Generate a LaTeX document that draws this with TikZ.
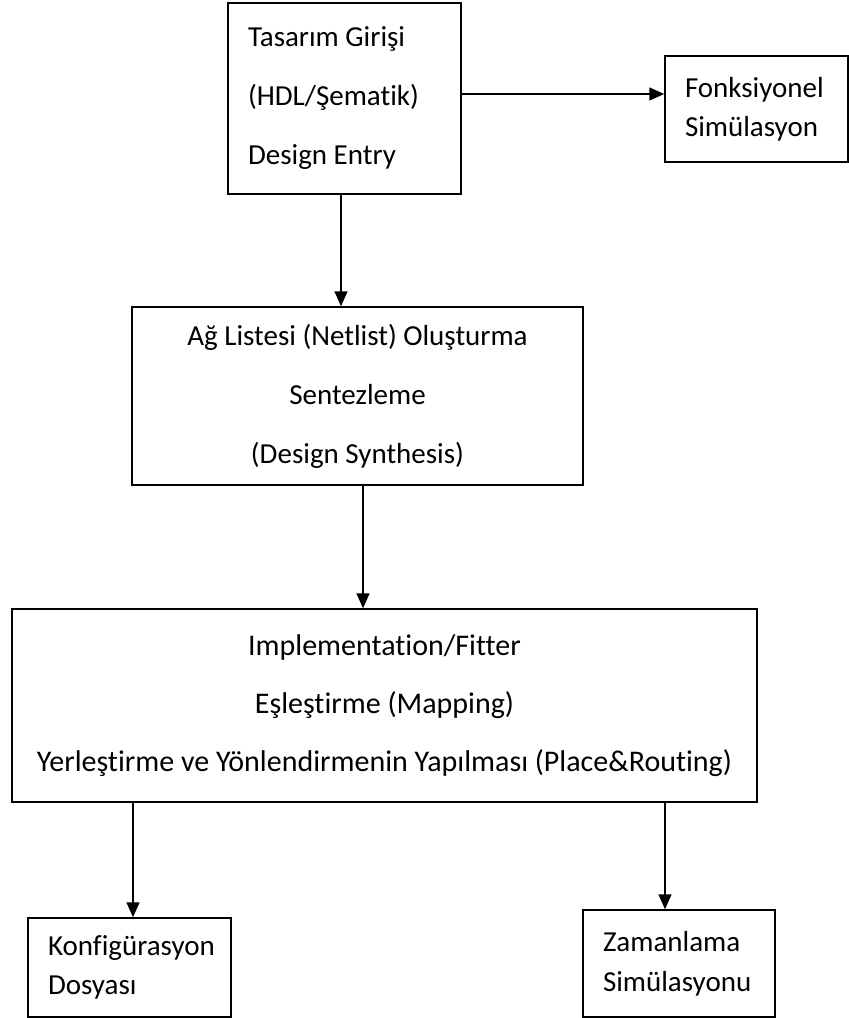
\documentclass[tikz,border=0pt]{standalone}
\usepackage{fontspec}
\setmainfont{Carlito}[Ligatures=NoCommon]
\usepackage{tikz}
\usetikzlibrary{arrows.meta,positioning}
\tikzset{
 fblock/.style={rectangle, draw=black, fill=white, line width=1.5pt,
 inner sep=0pt, align=center, font=\fontsize{29}{59}\selectfont},
 lblock/.style={fblock, align=flush left, inner xsep=20pt},
 sblock/.style={lblock, font=\fontsize{29}{39}\selectfont},
 farrow/.style={-{Triangle[length=15pt,width=13pt]}, line width=1.5pt, draw=black},
}

\begin{document}
\begin{tikzpicture}[x=1pt, y=-1pt]
\useasboundingbox (0,0) rectangle (849,1018);

% --  Design entry and functional simulation  --
\node[lblock, text width=193pt, minimum height=191pt] (entry) at (344.5,98.5) {%
  Tasarım Girişi\\
  (HDL/Şematik)\\
  Design Entry};

\node[sblock, text width=143pt, minimum height=106pt] (funcsim) at (756.5,109) {%
  Fonksiyonel\\
  Simülasyon};

% --  Synthesis  --
\node[fblock, minimum width=451pt, minimum height=178pt] (synth) at (357.5,396) {%
  Ağ Listesi (Netlist) Oluşturma\\
  Sentezleme\\
  (Design Synthesis)};

% --  Implementation  --
\node[fblock, minimum width=745pt, minimum height=193pt,
      font=\fontsize{30}{58}\selectfont] (impl) at (384.5,705.5) {%
  Implementation/Fitter\\
  Eşleştirme (Mapping)\\
  Yerleştirme ve Yönlendirmenin Yapılması (Place\&Routing)};

% --  Outputs  --
\node[sblock, text width=163pt, minimum height=99pt] (config) at (129.5,967.5) {%
  Konfigürasyon\\
  Dosyası};

\node[sblock, text width=152pt, minimum height=107pt,
      font=\fontsize{29}{40}\selectfont] (timesim) at (679,963.5) {%
  Zamanlama\\
  Simülasyonu};

% arrow positions
\coordinate (ay) at (0,94);
\coordinate (ax1) at (341,0);
\coordinate (ax2) at (363,0);
\coordinate (ax3) at (133,0);
\coordinate (ax4) at (665,0);

\draw[farrow] (entry.east |- ay)  -- (funcsim.west |- ay);
\draw[farrow] (entry.south -| ax1) -- (synth.north -| ax1);
\draw[farrow] (synth.south -| ax2) -- (impl.north -| ax2);
\draw[farrow] (impl.south -| ax3)  -- (config.north -| ax3);
\draw[farrow] (impl.south -| ax4)  -- (timesim.north -| ax4);

\end{tikzpicture}
\end{document}
